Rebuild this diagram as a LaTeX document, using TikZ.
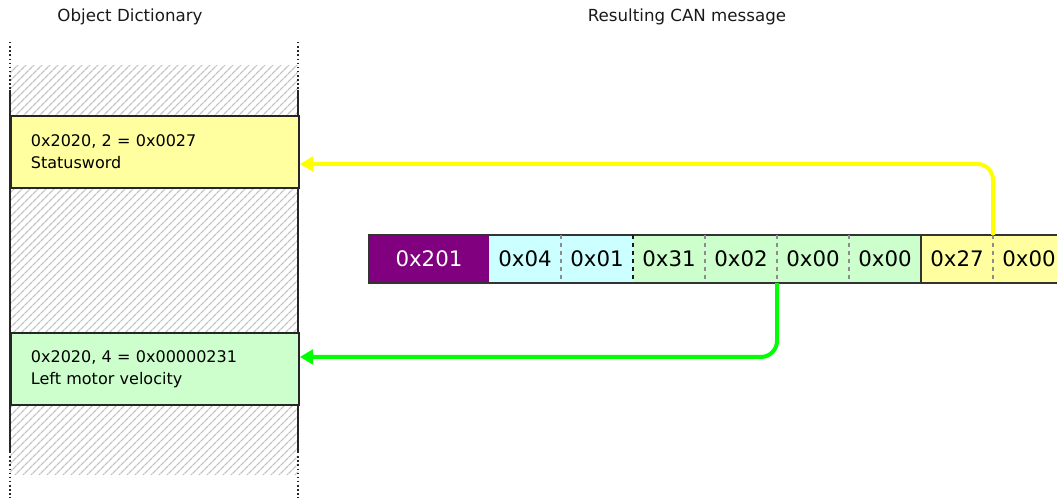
\documentclass[tikz,border=0pt]{standalone}
\usepackage{fontspec}
\setmainfont{DejaVu Sans}
\usetikzlibrary{positioning,patterns.meta,arrows.meta}

\definecolor{odyellow}{RGB}{255,255,160}
\definecolor{odgreen}{RGB}{204,255,204}
\definecolor{cancyan}{RGB}{204,255,255}
\definecolor{canpurple}{RGB}{128,0,128}
\definecolor{sigyellow}{RGB}{255,255,0}
\definecolor{siggreen}{RGB}{0,255,0}
\definecolor{hatchgray}{RGB}{190,190,190}

\tikzset{
  title/.style={font=\fontsize{12.5}{15}\selectfont, text=black!90},
  odentry/.style={draw=black!85, line width=1.4pt, minimum width=216pt, minimum height=54pt,
    inner xsep=15pt, text width=186pt, align=left, anchor=north west,
    font=\fontsize{12}{16.5}\selectfont},
  odrule/.style={black!85, line width=1.6pt},
  odends/.style={black!85, line width=1.1pt, dotted},
  cell/.style={minimum width=54pt, minimum height=36pt, inner sep=0pt, outer sep=0pt,
    font=\fontsize{16}{18}\selectfont},
  canedge/.style={black!80, line width=1.4pt},
  bytesep/.style={black!45, line width=1pt, dashed},
  groupsep/.style={black!90, line width=1pt, dashed},
  signal/.style={line width=3pt, rounded corners=12pt, -{Triangle[length=10pt,width=11pt]}}
}

\begin{document}
\begin{tikzpicture}[x=0.75pt,y=-0.75pt]
  \useasboundingbox (0,0) rectangle (1057,498);
  \clip (0,0) rectangle (1057,498);

  % object dictionary column
  \node[title] (odtitle) at (130,17) {Object Dictionary};
  \node[title] (cantitle) at (687,17) {Resulting CAN message};
  \fill[pattern={Lines[angle=45,distance=4pt,line width=0.95pt]}, pattern color=hatchgray] (10,66) rectangle (298,475);
  \draw[odends] (10,42) -- (10,90) (298,42) -- (298,90) (10,452) -- (10,498) (298,452) -- (298,498);
  \draw[odrule] (10,90) -- (10,452) (298,90) -- (298,452);
  \node[odentry, fill=odyellow] (statusword) at (10,115) {0x2020, 2 = 0x0027\\Statusword};
  \node[odentry, fill=odgreen] (velocity) at (10,332) {0x2020, 4 = 0x00000231\\Left motor velocity};

  % CAN frame
  \node[cell, fill=canpurple, text=white, minimum width=90pt, anchor=north west] (cobid) at (369,235) {0x201};
  \node[cell, fill=cancyan, right=0pt of cobid] (b0) {0x04};
  \node[cell, fill=cancyan, right=0pt of b0] (b1) {0x01};
  \node[cell, fill=odgreen, right=0pt of b1] (b2) {0x31};
  \node[cell, fill=odgreen, right=0pt of b2] (b3) {0x02};
  \node[cell, fill=odgreen, right=0pt of b3] (b4) {0x00};
  \node[cell, fill=odgreen, right=0pt of b4] (b5) {0x00};
  \node[cell, fill=odyellow, right=0pt of b5] (b6) {0x27};
  \node[cell, fill=odyellow, right=0pt of b6] (b7) {0x00};
  \draw[canedge] (b7.north east) -- (cobid.north west) -- (cobid.south west) -- (b7.south east);
  \draw[bytesep] (b0.north east) -- (b0.south east);
  \draw[groupsep] (b1.north east) -- (b1.south east);
  \draw[bytesep] (b2.north east) -- (b2.south east);
  \draw[bytesep] (b3.north east) -- (b3.south east);
  \draw[bytesep] (b4.north east) -- (b4.south east);
  \draw[canedge, line width=1pt] (b5.north east) -- (b5.south east);
  \draw[bytesep] (b6.north east) -- (b6.south east);

  % mapping arrows
  \draw[signal, sigyellow] (b6.north east) |- ([yshift=-9pt]statusword.east);
  \draw[signal, siggreen] (b3.south east) |- ([yshift=9pt]velocity.east);
\end{tikzpicture}
\end{document}
